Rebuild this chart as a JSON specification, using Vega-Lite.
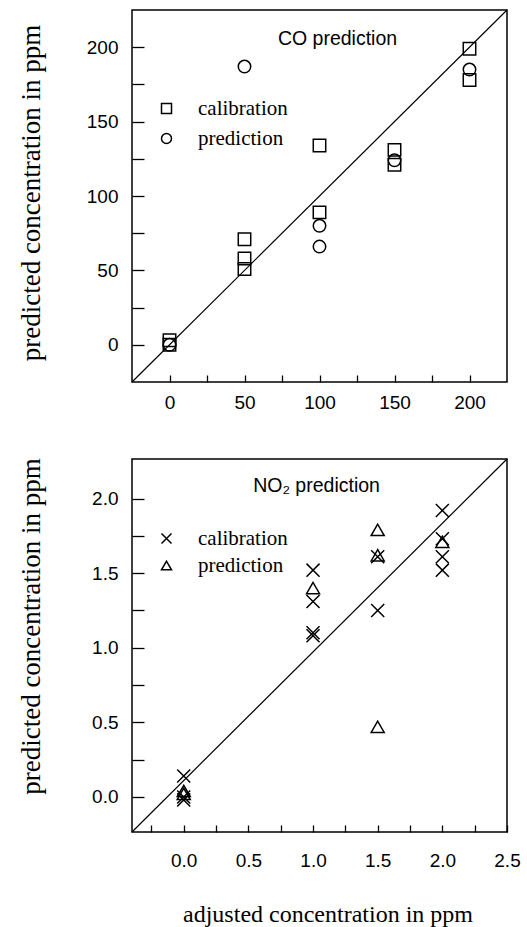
{
  "$schema": "https://vega.github.io/schema/vega-lite/v6.json",
  "background": "white",
  "padding": {"left": 16, "top": 6, "right": 0, "bottom": 0},
  "spacing": 41,
  "config": {
    "view": {"stroke": "black", "strokeWidth": 1.5},
    "axis": {
      "domain": false, "grid": false,
      "tickColor": "black", "tickWidth": 1.3, "tickCount": 30,
      "labelOverlap": false, "labelFlush": false,
      "labelColor": "black", "labelFont": "Liberation Sans", "labelFontSize": 19,
      "titleColor": "black", "titleFont": "Liberation Serif", "titleFontWeight": "normal"
    },
    "legend": {
      "title": null, "orient": "none",
      "labelFont": "Liberation Serif", "labelFontSize": 21, "labelColor": "black",
      "symbolStrokeColor": "black", "symbolStrokeWidth": 1.5, "symbolFillColor": "transparent",
      "rowPadding": 8, "labelOffset": 21, "padding": 0
    }
  },
  "resolve": {"scale": {"shape": "independent"}, "legend": {"shape": "independent"}},
  "vconcat": [
    {
      "width": 375, "height": 372,
      "layer": [
        {
          "data": {"values": [{"x": -25, "y": -25}, {"x": 225, "y": 225}]},
          "mark": {"type": "line", "color": "black", "strokeWidth": 1.2},
          "encoding": {
            "x": {"field": "x", "type": "quantitative",
                  "scale": {"domain": [-25, 225], "nice": false, "zero": false},
                  "axis": {"values": [0, 25, 50, 75, 100, 125, 150, 175, 200], "tickCount": 30, "tickSize": -7, "labelPadding": 18.5,
                           "labelExpr": "datum.value % 50 === 0 ? datum.label : ''", "title": null}},
            "y": {"field": "y", "type": "quantitative",
                  "scale": {"domain": [-25, 225], "nice": false, "zero": false},
                  "axis": {"values": [0, 25, 50, 75, 100, 125, 150, 175, 200], "tickCount": 30, "tickSize": -12, "labelPadding": 26,
                           "labelExpr": "datum.value % 50 === 0 ? datum.label : ''",
                           "title": "predicted concentration in ppm", "titleFontSize": 27,
                           "titleX": -93, "titleY": 182.5, "titleBaseline": "alphabetic", "titleAngle": 270, "titleAlign": "center"}}
          }
        },
        {
          "data": {"values": [
            {"adjusted": 0, "predicted": 3, "series": "calibration"},
            {"adjusted": 0, "predicted": 0, "series": "calibration"},
            {"adjusted": 50, "predicted": 71, "series": "calibration"},
            {"adjusted": 50, "predicted": 58, "series": "calibration"},
            {"adjusted": 50, "predicted": 51, "series": "calibration"},
            {"adjusted": 100, "predicted": 134, "series": "calibration"},
            {"adjusted": 100, "predicted": 89, "series": "calibration"},
            {"adjusted": 150, "predicted": 131, "series": "calibration"},
            {"adjusted": 150, "predicted": 121, "series": "calibration"},
            {"adjusted": 200, "predicted": 199, "series": "calibration"},
            {"adjusted": 200, "predicted": 178, "series": "calibration"},
            {"adjusted": 0, "predicted": 0, "series": "prediction"},
            {"adjusted": 50, "predicted": 187, "series": "prediction"},
            {"adjusted": 100, "predicted": 80, "series": "prediction"},
            {"adjusted": 100, "predicted": 66, "series": "prediction"},
            {"adjusted": 150, "predicted": 124, "series": "prediction"},
            {"adjusted": 200, "predicted": 185, "series": "prediction"}
          ]},
          "mark": {"type": "point", "filled": false, "color": "black", "strokeWidth": 1.5, "opacity": 1, "size": 155},
          "encoding": {
            "x": {"field": "adjusted", "type": "quantitative"},
            "y": {"field": "predicted", "type": "quantitative"},
            "shape": {"field": "series", "type": "nominal",
                      "scale": {"domain": ["calibration", "prediction"], "range": ["square", "circle"]},
                      "legend": {"legendX": 24, "legendY": 88}}
          }
        },
        {
          "data": {"values": [{"label": "CO prediction"}]},
          "mark": {"type": "text", "font": "Liberation Sans", "fontSize": 19.5, "color": "black", "align": "center", "baseline": "alphabetic"},
          "encoding": {
            "x": {"datum": 112},
            "y": {"datum": 201.5},
            "text": {"field": "label"}
          }
        }
      ]
    },
    {
      "width": 375, "height": 373,
      "layer": [
        {
          "data": {"values": [{"x": -0.4, "y": -0.235}, {"x": 2.5, "y": 2.265}]},
          "mark": {"type": "line", "color": "black", "strokeWidth": 1.2},
          "encoding": {
            "x": {"field": "x", "type": "quantitative",
                  "scale": {"domain": [-0.4, 2.5], "nice": false, "zero": false},
                  "axis": {"values": [-0.25, 0, 0.25, 0.5, 0.75, 1, 1.25, 1.5, 1.75, 2, 2.25, 2.5], "tickCount": 30, "tickSize": -7, "labelPadding": 26.5,
                           "labelExpr": "(datum.value * 100) % 50 === 0 ? format(datum.value, '.1f') : ''",
                           "title": "adjusted concentration in ppm", "titleFontSize": 24,
                           "titleX": 195.5, "titleY": 89, "titleBaseline": "alphabetic", "titleAlign": "center"}},
            "y": {"field": "y", "type": "quantitative",
                  "scale": {"domain": [-0.235, 2.265], "nice": false, "zero": false},
                  "axis": {"values": [0, 0.25, 0.5, 0.75, 1, 1.25, 1.5, 1.75, 2], "tickCount": 30, "tickSize": -12, "labelPadding": 26,
                           "labelExpr": "(datum.value * 100) % 50 === 0 ? format(datum.value, '.1f') : ''",
                           "title": "predicted concentration in ppm", "titleFontSize": 27,
                           "titleX": -93, "titleY": 167, "titleBaseline": "alphabetic", "titleAngle": 270, "titleAlign": "center"}}
          }
        },
        {
          "data": {"values": [
            {"adjusted": 0, "predicted": 0.14, "series": "calibration"},
            {"adjusted": 0, "predicted": 0.0, "series": "calibration"},
            {"adjusted": 0, "predicted": -0.02, "series": "calibration"},
            {"adjusted": 1, "predicted": 1.52, "series": "calibration"},
            {"adjusted": 1, "predicted": 1.31, "series": "calibration"},
            {"adjusted": 1, "predicted": 1.10, "series": "calibration"},
            {"adjusted": 1, "predicted": 1.08, "series": "calibration"},
            {"adjusted": 1.5, "predicted": 1.61, "series": "calibration"},
            {"adjusted": 1.5, "predicted": 1.25, "series": "calibration"},
            {"adjusted": 2, "predicted": 1.92, "series": "calibration"},
            {"adjusted": 2, "predicted": 1.73, "series": "calibration"},
            {"adjusted": 2, "predicted": 1.61, "series": "calibration"},
            {"adjusted": 2, "predicted": 1.52, "series": "calibration"},
            {"adjusted": 0, "predicted": 0.04, "series": "prediction"},
            {"adjusted": 0, "predicted": 0.02, "series": "prediction"},
            {"adjusted": 1, "predicted": 1.40, "series": "prediction"},
            {"adjusted": 1.5, "predicted": 1.79, "series": "prediction"},
            {"adjusted": 1.5, "predicted": 1.62, "series": "prediction"},
            {"adjusted": 1.5, "predicted": 0.47, "series": "prediction"},
            {"adjusted": 2, "predicted": 1.71, "series": "prediction"}
          ]},
          "mark": {"type": "point", "filled": false, "color": "black", "strokeWidth": 1.5, "opacity": 1, "size": 170},
          "encoding": {
            "x": {"field": "adjusted", "type": "quantitative"},
            "y": {"field": "predicted", "type": "quantitative"},
            "shape": {"field": "series", "type": "nominal",
                      "scale": {"domain": ["calibration", "prediction"], "range": ["M-1,-1L1,1M1,-1L-1,1", "triangle-up"]},
                      "legend": {"legendX": 24, "legendY": 69, "rowPadding": 5}}
          }
        },
        {
          "data": {"values": [{"label": "NO₂ prediction"}]},
          "mark": {"type": "text", "font": "Liberation Sans", "fontSize": 19.5, "color": "black", "align": "center", "baseline": "alphabetic"},
          "encoding": {
            "x": {"datum": 1.027},
            "y": {"datum": 2.044},
            "text": {"field": "label"}
          }
        }
      ]
    }
  ]
}
